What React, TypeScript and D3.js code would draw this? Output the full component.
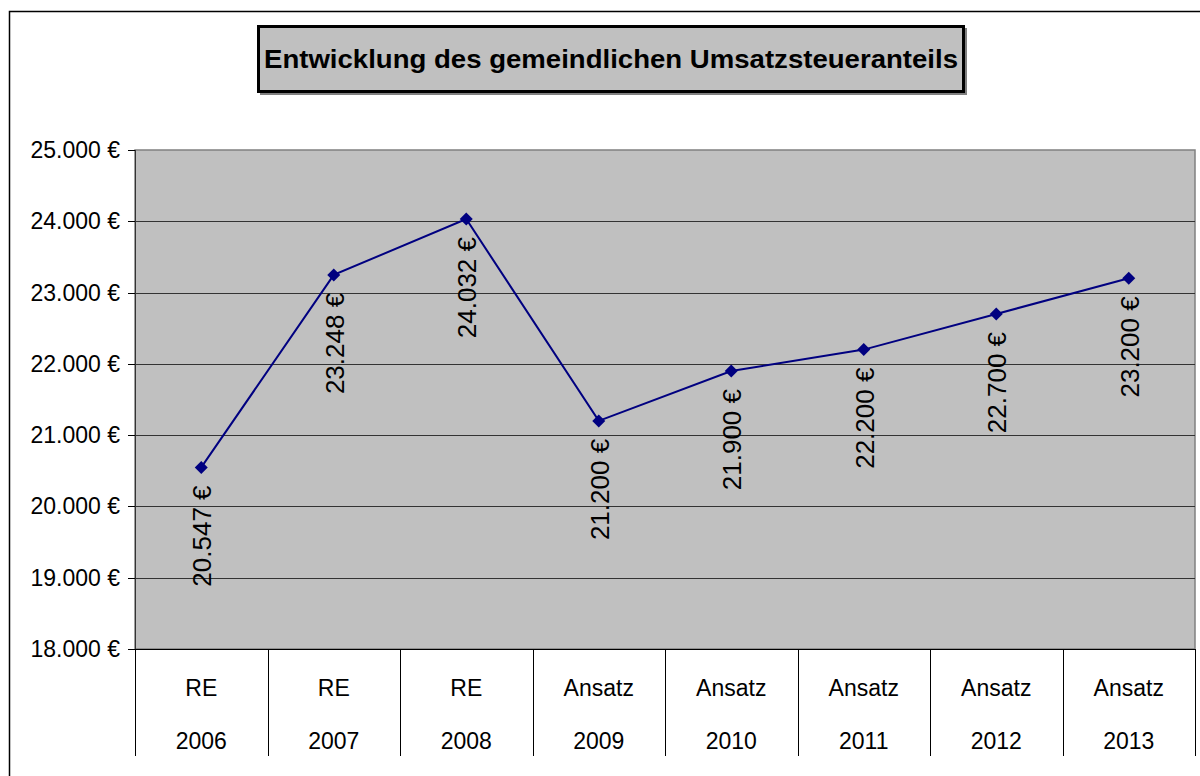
import { useEffect, useRef } from 'react';
import * as d3 from 'd3';

const categories = ['RE 2006', 'RE 2007', 'RE 2008', 'Ansatz 2009', 'Ansatz 2010', 'Ansatz 2011', 'Ansatz 2012', 'Ansatz 2013'];
const values = [20547, 23248, 24032, 21200, 21900, 22200, 22700, 23200];
const yTicks = [18000, 19000, 20000, 21000, 22000, 23000, 24000, 25000];
const title = 'Entwicklung des gemeindlichen Umsatzsteueranteils';

const fmt = (v: number) => d3.format(',')(v).replace(/,/g, '.') + ' €';

function App() {
    const svgRef = useRef<SVGSVGElement>(null);

    useEffect(() => {
        if (!svgRef.current) return;
        const svg = d3.select(svgRef.current);
        svg.selectAll('*').remove();

        const W = 1200, H = 776;
        const plot = { left: 135, top: 150, right: 1195, bottom: 649 };
        const font = '"Liberation Sans", Arial, sans-serif';

        // outer frame
        svg.append('rect')
            .attr('x', 9.5).attr('y', 11.5)
            .attr('width', W).attr('height', H)
            .attr('fill', '#fff').attr('stroke', '#000').attr('stroke-width', 1.5);

        // title box
        svg.append('rect')
            .attr('x', 260).attr('y', 28).attr('width', 707).attr('height', 67)
            .attr('fill', '#808080');
        svg.append('rect')
            .attr('x', 258.5).attr('y', 26.5).attr('width', 705).attr('height', 65)
            .attr('fill', '#c0c0c0').attr('stroke', '#000').attr('stroke-width', 3);
        svg.append('text')
            .attr('x', 611).attr('y', 68)
            .attr('text-anchor', 'middle')
            .attr('font-family', font).attr('font-weight', 'bold').attr('font-size', 26)
            .attr('textLength', 694).attr('lengthAdjust', 'spacingAndGlyphs')
            .text(title);

        const x = d3.scaleBand<string>()
            .domain(categories)
            .range([plot.left, plot.right])
            .padding(0);

        const y = d3.scaleLinear()
            .domain([18000, 25000])
            .range([plot.bottom, plot.top]);

        // plot area
        svg.append('rect')
            .attr('x', plot.left).attr('y', plot.top)
            .attr('width', plot.right - plot.left).attr('height', plot.bottom - plot.top)
            .attr('fill', '#c0c0c0').attr('stroke', '#808080').attr('stroke-width', 1.5);

        // grid lines
        svg.append('g').selectAll('line')
            .data(yTicks.slice(1, -1))
            .join('line')
            .attr('x1', plot.left).attr('x2', plot.right)
            .attr('y1', d => Math.round(y(d)) + 0.5).attr('y2', d => Math.round(y(d)) + 0.5)
            .attr('stroke', '#333').attr('stroke-width', 1);

        // y axis
        const yAxis = svg.append('g');
        yAxis.append('line')
            .attr('x1', plot.left + 0.5).attr('x2', plot.left + 0.5)
            .attr('y1', plot.top).attr('y2', plot.bottom)
            .attr('stroke', '#333').attr('stroke-width', 1);
        yAxis.selectAll('line.tick')
            .data(yTicks)
            .join('line')
            .attr('class', 'tick')
            .attr('x1', plot.left - 7).attr('x2', plot.left)
            .attr('y1', d => Math.round(y(d)) + 0.5).attr('y2', d => Math.round(y(d)) + 0.5)
            .attr('stroke', '#000');
        yAxis.selectAll('text')
            .data(yTicks)
            .join('text')
            .attr('x', 120).attr('y', d => y(d))
            .attr('dy', '0.35em')
            .attr('text-anchor', 'end')
            .attr('font-family', font).attr('font-size', 23)
            .text(d => fmt(d));

        // x axis (category table)
        const xAxis = svg.append('g');
        xAxis.append('line')
            .attr('x1', plot.left).attr('x2', plot.right)
            .attr('y1', plot.bottom + 0.5).attr('y2', plot.bottom + 0.5)
            .attr('stroke', '#000');
        const bounds = categories.map(c => x(c)!).concat([plot.right]);
        xAxis.selectAll('line.sep')
            .data(bounds)
            .join('line')
            .attr('class', 'sep')
            .attr('x1', d => Math.round(d) + 0.5).attr('x2', d => Math.round(d) + 0.5)
            .attr('y1', plot.bottom).attr('y2', 756)
            .attr('stroke', '#000');
        const catLabels = xAxis.selectAll('text')
            .data(categories)
            .join('text')
            .attr('text-anchor', 'middle')
            .attr('font-family', font).attr('font-size', 23);
        catLabels.append('tspan')
            .attr('x', d => x(d)! + x.bandwidth() / 2).attr('y', 696)
            .text(d => d.split(' ')[0]);
        catLabels.append('tspan')
            .attr('x', d => x(d)! + x.bandwidth() / 2).attr('y', 749)
            .text(d => d.split(' ')[1]);

        // series
        const pts = categories.map((c, i) => [x(c)! + x.bandwidth() / 2, y(values[i])] as [number, number]);
        svg.append('path')
            .datum(pts)
            .attr('d', d3.line())
            .attr('fill', 'none')
            .attr('stroke', '#000080')
            .attr('stroke-width', 2);

        svg.append('g').selectAll('path')
            .data(pts)
            .join('path')
            .attr('transform', d => `translate(${d[0]},${d[1]})`)
            .attr('d', 'M0,-6.5L6.5,0L0,6.5L-6.5,0Z')
            .attr('fill', '#000080');

        // data labels
        svg.append('g').selectAll('text')
            .data(pts)
            .join('text')
            .attr('transform', d => `translate(${d[0] + 1},${d[1] + 18}) rotate(-90)`)
            .attr('dy', '0.35em')
            .attr('text-anchor', 'end')
            .attr('font-family', font).attr('font-size', 26)
            .text((_, i) => fmt(values[i]));
    }, []);

    return (
        <svg ref={svgRef} width={1200} height={776}
            style={{ position: 'absolute', left: 0, top: 0, display: 'block' }}></svg>
    );
}

export default App;
